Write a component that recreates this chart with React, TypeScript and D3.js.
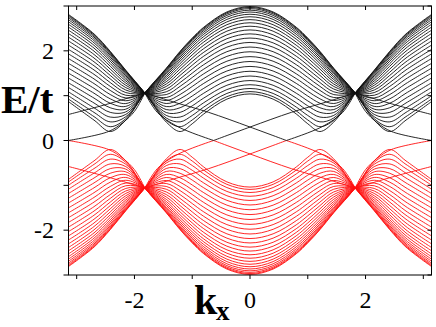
import * as d3 from 'd3'

// kx sample points (bands are symmetric in kx, mirrored to negative side)
const kHalf = [0, 0.4, 0.8, 1.0, 1.21, 1.45, 1.82, 2.15, 2.42, 2.7, 3.1416]

// |E/t| of the bulk bands read at kHalf; black is +E, red is -E
const bulkBands = [
  [2.987, 2.868, 2.527, 2.285, 1.99, 1.611, 1.06, 0.453, 0.2, 0.455, 0.867],
  [2.968, 2.85, 2.51, 2.269, 1.976, 1.601, 1.06, 0.487, 0.308, 0.533, 0.924],
  [2.942, 2.824, 2.486, 2.247, 1.956, 1.586, 1.06, 0.53, 0.416, 0.627, 0.997],
  [2.907, 2.791, 2.455, 2.217, 1.931, 1.566, 1.06, 0.582, 0.523, 0.729, 1.085],
  [2.866, 2.75, 2.416, 2.182, 1.899, 1.542, 1.06, 0.639, 0.628, 0.837, 1.182],
  [2.816, 2.701, 2.371, 2.14, 1.862, 1.513, 1.06, 0.699, 0.731, 0.946, 1.286],
  [2.76, 2.646, 2.32, 2.091, 1.819, 1.481, 1.06, 0.761, 0.832, 1.055, 1.393],
  [2.696, 2.583, 2.261, 2.037, 1.771, 1.444, 1.06, 0.824, 0.93, 1.164, 1.502],
  [2.626, 2.514, 2.197, 1.977, 1.717, 1.404, 1.06, 0.887, 1.026, 1.27, 1.612],
  [2.549, 2.439, 2.126, 1.91, 1.658, 1.359, 1.06, 0.949, 1.118, 1.374, 1.72],
  [2.466, 2.357, 2.05, 1.839, 1.594, 1.311, 1.06, 1.009, 1.208, 1.476, 1.827],
  [2.378, 2.27, 1.968, 1.762, 1.525, 1.259, 1.06, 1.069, 1.293, 1.574, 1.931],
  [2.285, 2.178, 1.881, 1.68, 1.453, 1.205, 1.06, 1.126, 1.375, 1.667, 2.031],
  [2.187, 2.082, 1.789, 1.593, 1.375, 1.147, 1.06, 1.18, 1.453, 1.756, 2.127],
  [2.085, 1.981, 1.692, 1.502, 1.293, 1.086, 1.06, 1.232, 1.525, 1.84, 2.219],
  [1.979, 1.876, 1.592, 1.406, 1.208, 1.024, 1.06, 1.281, 1.594, 1.919, 2.305],
  [1.871, 1.769, 1.488, 1.307, 1.118, 0.959, 1.06, 1.327, 1.658, 1.993, 2.386],
  [1.762, 1.66, 1.382, 1.205, 1.026, 0.892, 1.06, 1.369, 1.717, 2.061, 2.46],
  [1.652, 1.55, 1.274, 1.099, 0.93, 0.825, 1.06, 1.407, 1.771, 2.123, 2.529],
  [1.544, 1.442, 1.164, 0.992, 0.832, 0.757, 1.06, 1.443, 1.819, 2.179, 2.591],
  [1.438, 1.335, 1.055, 0.883, 0.731, 0.69, 1.06, 1.473, 1.862, 2.228, 2.646],
  [1.337, 1.232, 0.947, 0.773, 0.628, 0.624, 1.06, 1.501, 1.899, 2.272, 2.693],
  [1.244, 1.136, 0.843, 0.664, 0.523, 0.56, 1.06, 1.523, 1.931, 2.308, 2.734],
  [1.16, 1.05, 0.746, 0.558, 0.416, 0.502, 1.06, 1.542, 1.956, 2.338, 2.767],
  [1.091, 0.978, 0.661, 0.458, 0.308, 0.452, 1.06, 1.557, 1.976, 2.361, 2.793],
  [1.039, 0.923, 0.592, 0.373, 0.2, 0.412, 1.06, 1.567, 1.99, 2.378, 2.811],
]

// edge states, [kx, E/t] pairs
const edgeBlack = [
  [[-1.82, 1.06], [-1.3, 0.85], [-0.72, 0.63], [0, 0.3], [0.63, 0]],
  [[-0.63, 0], [0, 0.3], [0.72, 0.63], [1.3, 0.85], [1.82, 1.06]],
  [[-1.82, 1.06], [-1.6, 0.62], [-1.28, 0.33], [-1.0, 0.17], [-0.63, 0]],
  [[0.63, 0], [1.0, 0.17], [1.28, 0.33], [1.6, 0.62], [1.82, 1.06]],
  [[-3.1416, 0], [-2.45, 0.2], [-2.2, 0.4], [-2.0, 0.65], [-1.82, 1.06]],
  [[1.82, 1.06], [2.0, 0.65], [2.2, 0.4], [2.45, 0.2], [3.1416, 0]],
  [[-3.1416, 0.58], [-2.5, 0.8], [-1.82, 1.06]],
  [[1.82, 1.06], [2.5, 0.8], [3.1416, 0.58]],
]
const edgeRed = [
  [[-1.82, -1.06], [-1.3, -0.85], [-0.72, -0.63], [0, -0.3], [0.63, 0]],
  [[-0.63, 0], [0, -0.3], [0.72, -0.63], [1.3, -0.85], [1.82, -1.06]],
  [[-1.82, -1.06], [-1.6, -0.62], [-1.28, -0.33], [-1.0, -0.17], [-0.63, 0]],
  [[0.63, 0], [1.0, -0.17], [1.28, -0.33], [1.6, -0.62], [1.82, -1.06]],
  [[-3.1416, 0], [-2.45, -0.2], [-2.2, -0.4], [-2.0, -0.65], [-1.82, -1.06]],
  [[1.82, -1.06], [2.0, -0.65], [2.2, -0.4], [2.45, -0.2], [3.1416, 0]],
  [[-3.1416, -0.58], [-2.5, -0.8], [-1.82, -1.06]],
  [[1.82, -1.06], [2.5, -0.8], [3.1416, -0.58]],
]

const xTicks = [-3, -2, -1, 0, 1, 2, 3]
const yTicks = [-3, -2, -1, 0, 1, 2, 3]
const xLabels = [-2, 0, 2]
const yLabels = [-2, 0, 2]

export default function App() {
  const W = 436
  const H = 327
  const x0 = 68.5, x1 = 431.5, y0 = 6, y1 = 275

  const x = d3.scaleLinear().domain([-Math.PI, Math.PI]).range([x0, x1])
  const y = d3.scaleLinear().domain([-3, 3]).range([y1, y0])

  const line = d3
    .line<number[]>()
    .x(d => x(d[0]))
    .y(d => y(d[1]))
    .curve(d3.curveCatmullRom.alpha(0.5))

  // full kx range from the half samples
  const kFull = [...kHalf.slice(1).map(k => -k).reverse(), ...kHalf]
  const bandPts = (band: number[], sign: number) => {
    const vals = [...band.slice(1).reverse(), ...band]
    return kFull.map((k, i) => [k, sign * vals[i]])
  }

  const font = '"Liberation Serif", "Times New Roman", serif'
  const red = '#ff1010'
  const black = '#111'

  return (
    <svg width={W} height={H} style={{ position: 'absolute', left: 0, top: 0, background: '#fff' }}>
      <defs>
        <clipPath id="plot">
          <rect x={x0} y={y0} width={x1 - x0} height={y1 - y0} />
        </clipPath>
      </defs>

      <g clipPath="url(#plot)" fill="none">
        {bulkBands.map((b, i) => (
          <path key={'r' + i} d={line(bandPts(b, -1)) || ''} stroke={red} strokeWidth={0.9} />
        ))}
        {edgeRed.map((e, i) => (
          <path key={'re' + i} d={line(e) || ''} stroke={red} strokeWidth={0.9} />
        ))}
        {bulkBands.map((b, i) => (
          <path key={'b' + i} d={line(bandPts(b, 1)) || ''} stroke={black} strokeWidth={0.9} />
        ))}
        {edgeBlack.map((e, i) => (
          <path key={'be' + i} d={line(e) || ''} stroke={black} strokeWidth={0.9} />
        ))}
      </g>

      {/* frame */}
      <rect x={x0} y={y0} width={x1 - x0} height={y1 - y0} fill="none" stroke="#000" strokeWidth={1} />

      {/* ticks */}
      {xTicks.map(t => (
        <g key={'xt' + t}>
          <line x1={x(t)} x2={x(t)} y1={y1} y2={y1 + 4} stroke="#000" />
          <line x1={x(t)} x2={x(t)} y1={y0} y2={y0 + 4} stroke="#000" />
        </g>
      ))}
      {yTicks.map(t => (
        <g key={'yt' + t}>
          <line x1={x0 - 5} x2={x0} y1={y(t)} y2={y(t)} stroke="#000" />
          <line x1={x1 - 4} x2={x1} y1={y(t)} y2={y(t)} stroke="#000" />
        </g>
      ))}

      {/* tick labels */}
      {xLabels.map(t => (
        <text key={'xl' + t} x={x(t)} y={308} textAnchor="middle" fontFamily={font} fontSize={24}>
          {t < 0 ? '-' + Math.abs(t) : t}
        </text>
      ))}
      {yLabels.map(t => (
        <text key={'yl' + t} x={54} y={y(t) + 8} textAnchor="end" fontFamily={font} fontSize={24}>
          {t < 0 ? '-' + Math.abs(t) : t}
        </text>
      ))}

      {/* axis titles */}
      <text x={1} y={113} fontFamily={font} fontSize={41} fontWeight="bold">E/t</text>
      <text x={194} y={314} fontFamily={font} fontSize={42} fontWeight="bold">k</text>
      <text x={216} y={320} fontFamily={font} fontSize={27} fontWeight="bold">x</text>
    </svg>
  )
}
